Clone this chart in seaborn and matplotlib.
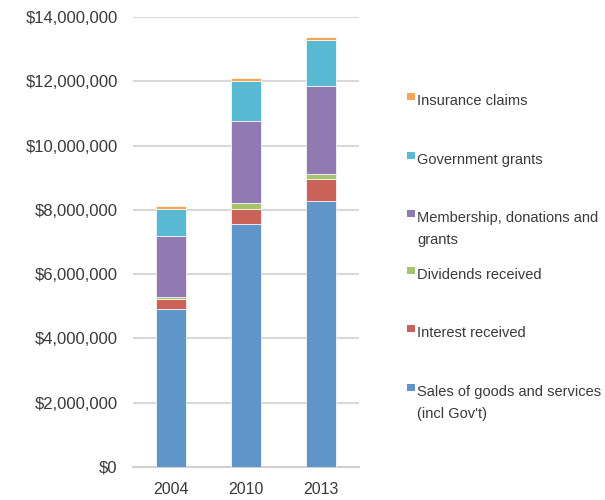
import matplotlib
matplotlib.use("Agg")
import matplotlib.pyplot as plt
from matplotlib.patches import Rectangle
from matplotlib.ticker import FuncFormatter
import numpy as np
import pandas as pd
import seaborn as sns

# Income by source, in dollars
years = ["2004", "2010", "2013"]
sales = [4910000, 7550000, 8290000]
interest = [310000, 480000, 660000]
dividends = [80000, 170000, 170000]
membership = [1900000, 2570000, 2740000]
government = [840000, 1250000, 1420000]
insurance = [90000, 90000, 90000]

series_names = [
    "Sales of goods and services\n(incl Gov't)",
    "Interest received",
    "Dividends received",
    "Membership, donations and\ngrants",
    "Government grants",
    "Insurance claims",
]
series_values = [sales, interest, dividends, membership, government, insurance]
colors = ["#5f95c8", "#cb6259", "#a5c46a", "#917ab1", "#59b9d2", "#f7a555"]

sns.set_style("white")
plt.rcParams["font.family"] = ["Liberation Sans", "DejaVu Sans"]
text_color = "#3a3a3a"

fig = plt.figure(figsize=(6.05, 5.0), dpi=100)
ax = fig.add_axes([133 / 605, 33 / 500, 226 / 605, 450 / 500])

bottom = np.zeros(len(years))
for name, vals, col in zip(series_names, series_values, colors):
    df = pd.DataFrame({"year": years, "value": vals})
    sns.barplot(data=df, x="year", y="value", order=years, color=col,
                width=0.4, bottom=bottom, ax=ax, saturation=1,
                edgecolor="#ffffff", linewidth=0.5, zorder=3)
    bottom = bottom + np.array(vals)

ax.set_ylim(0, 14000000)
ax.set_xlim(-0.5, 2.5)
ax.set_yticks(np.arange(0, 14000001, 2000000))
ax.yaxis.set_major_formatter(FuncFormatter(lambda v, p: f"${v:,.0f}"))
ax.grid(axis="y", color="#d9d9d9", linewidth=1.5, zorder=0)
ax.set_axisbelow(True)
for s in ["left", "right", "top"]:
    ax.spines[s].set_visible(False)
ax.spines["bottom"].set_color("#d0d0d0")
ax.spines["bottom"].set_linewidth(1.5)
ax.tick_params(axis="both", length=0, colors=text_color)
ax.tick_params(axis="y", pad=11, labelsize=12)
ax.tick_params(axis="x", pad=11, labelsize=11.5)
ax.set_xlabel("")
ax.set_ylabel("")

# Legend, top entry first, evenly spaced (pixel baselines of first lines)
legend_base = [105, 164, 222, 279, 337, 396]
line_step = 22
for name, col, ypix in zip(series_names[::-1], colors[::-1], legend_base):
    fig.patches.append(Rectangle((407 / 605, 1 - (ypix - 5) / 500), 7.5 / 605, 7 / 500,
                                 transform=fig.transFigure, facecolor=col,
                                 edgecolor="none"))
    for i, line in enumerate(name.split("\n")):
        fig.text(417 / 605, 1 - (ypix + i * line_step) / 500, line, fontsize=10.5,
                 color=text_color, va="baseline", ha="left")

fig.savefig("out.png", dpi=100)
